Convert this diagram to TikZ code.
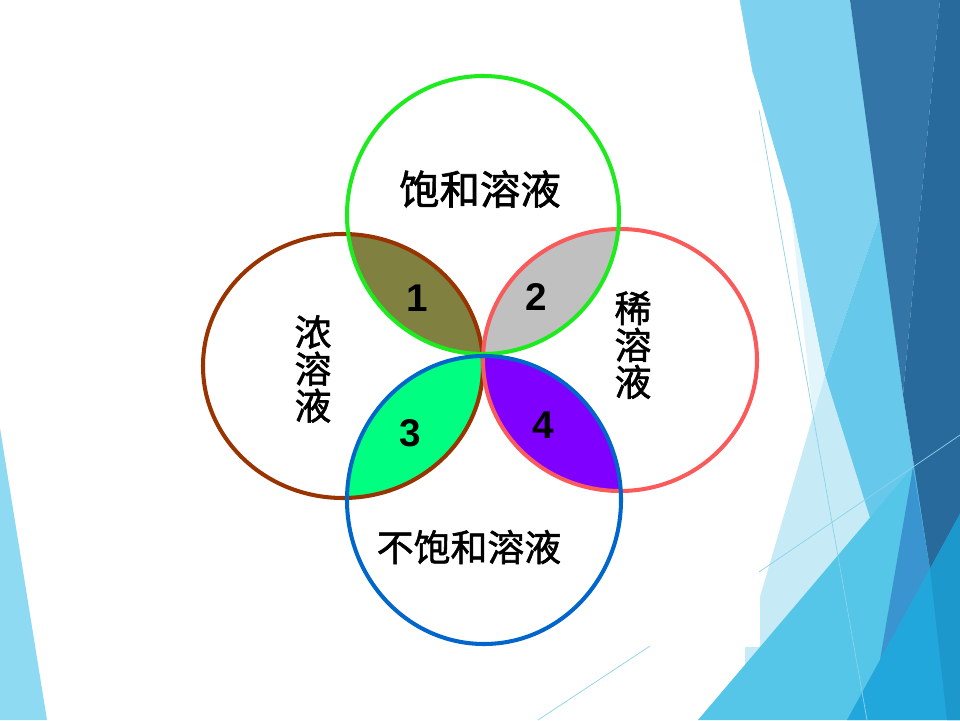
\documentclass[tikz,border=0pt]{standalone}
\usepackage{fontspec}
\setmainfont{Liberation Sans}
\newfontfamily\cjk[FakeBold=1.6]{Noto Sans CJK SC}
\definecolor{satgreen}{RGB}{30,235,30}
\definecolor{concbrown}{RGB}{153,51,0}
\definecolor{dilred}{RGB}{250,90,90}
\definecolor{unsatblue}{RGB}{0,102,204}
\definecolor{oliveone}{RGB}{128,128,64}
\definecolor{graytwo}{RGB}{192,192,192}
\definecolor{greenthree}{RGB}{0,255,128}
\definecolor{violetfour}{RGB}{128,0,255}
\definecolor{facetleft}{RGB}{143,218,243}
\definecolor{facetsky}{RGB}{126,210,239}
\definecolor{facetmid}{RGB}{102,201,235}
\definecolor{facetpale}{RGB}{226,245,251}
\definecolor{facetlight}{RGB}{198,235,247}
\definecolor{facetcyan}{RGB}{85,197,232}
\definecolor{facetmidblue}{RGB}{58,148,207}
\definecolor{facetdark}{RGB}{51,117,166}
\definecolor{facetdarker}{RGB}{40,106,155}
\definecolor{facetbright}{RGB}{34,167,221}
\definecolor{facetteal}{RGB}{28,152,204}
\definecolor{facetline}{RGB}{140,210,234}
\begin{document}
\begin{tikzpicture}[x=0.02cm,y=-0.02cm,
    ring/.style={line width=2.3pt},
    cjklbl/.style={font=\cjk\fontsize{21pt}{21pt}\selectfont,align=center,inner sep=0pt},
    numlbl/.style={font=\bfseries\fontsize{22pt}{22pt}\selectfont,inner sep=0pt}]
    \useasboundingbox (0,0) rectangle (960,720);
    \fill[white] (0,0) rectangle (960,720);
    % facets of the slide
    \fill[facetleft] (0,428) -- (47,720) -- (0,720) -- cycle;
    \fill[facetsky] (740,0) -- (850,0) -- (880,215) -- (825,375) -- (790,202) -- (753,73) -- cycle;
    \fill[facetpale] (790,202) -- (825,375) -- (813,415) -- cycle;
    \fill[facetmid] (880,215) -- (903,395) -- (930,569) -- (868,520) -- (825,375) -- cycle;
    \fill[facetlight] (825,375) -- (870,518) -- (745,665) -- (745,647) -- (760,647) -- (760,597) -- cycle;
    \fill[facetcyan] (698,720) -- (913,467) -- (960,430) -- (960,720) -- cycle;
    \fill[facetdark] (850,0) -- (940,0) -- (903,395) -- cycle;
    \fill[facetdarker] (940,0) -- (960,0) -- (960,514) -- (930,569) -- (903,395) -- cycle;
    \fill[facetmidblue] (913,467) -- (930,569) -- (880,660) -- cycle;
    \fill[facetbright] (847,720) -- (960,514) -- (960,720) -- cycle;
    \fill[facetteal] (930,569) -- (960,514) -- (960,720) -- (947,720) -- cycle;
    \draw[facetline,line width=0.4pt]
        (740,0) -- (753,73)
        (759,110) -- (867,720)
        (759,572) -- (960,435)
        (650,646) -- (538,720);
    % the four sets
    \coordinate (sat) at (483,215);
    \coordinate (conc) at (343,366);
    \coordinate (dil) at (620,360);
    \coordinate (unsat) at (484,500);
    \begin{scope}
        \clip (sat) ellipse[x radius=136,y radius=139];
        \fill[oliveone] (conc) ellipse[x radius=140,y radius=132];
        \fill[graytwo] (dil) ellipse[x radius=137,y radius=131];
    \end{scope}
    \begin{scope}
        \clip (unsat) ellipse[x radius=137,y radius=144];
        \fill[greenthree] (conc) ellipse[x radius=140,y radius=132];
        \fill[violetfour] (dil) ellipse[x radius=137,y radius=131];
    \end{scope}
    \draw[ring,concbrown] (conc) ellipse[x radius=140,y radius=132];
    \draw[ring,dilred] (dil) ellipse[x radius=137,y radius=131];
    \draw[ring,satgreen] (sat) ellipse[x radius=136,y radius=139];
    \draw[ring,unsatblue] (unsat) ellipse[x radius=137,y radius=144];
    % labels
    \node[cjklbl,font=\cjk\fontsize{23pt}{23pt}\selectfont] (satlbl) at (480,189) {饱和溶液};
    \node[cjklbl] (unsatlbl) at (469,547) {不饱和溶液};
    \node[cjklbl] (conclbl) at (313,369) {浓\\溶\\液};
    \node[cjklbl] (dillbl) at (633,345) {稀\\溶\\液};
    \node[numlbl] (one) at (417,298) {1};
    \node[numlbl] (two) at (536,297) {2};
    \node[numlbl] (three) at (410,433) {3};
    \node[numlbl] (four) at (543,425) {4};
\end{tikzpicture}
\end{document}
